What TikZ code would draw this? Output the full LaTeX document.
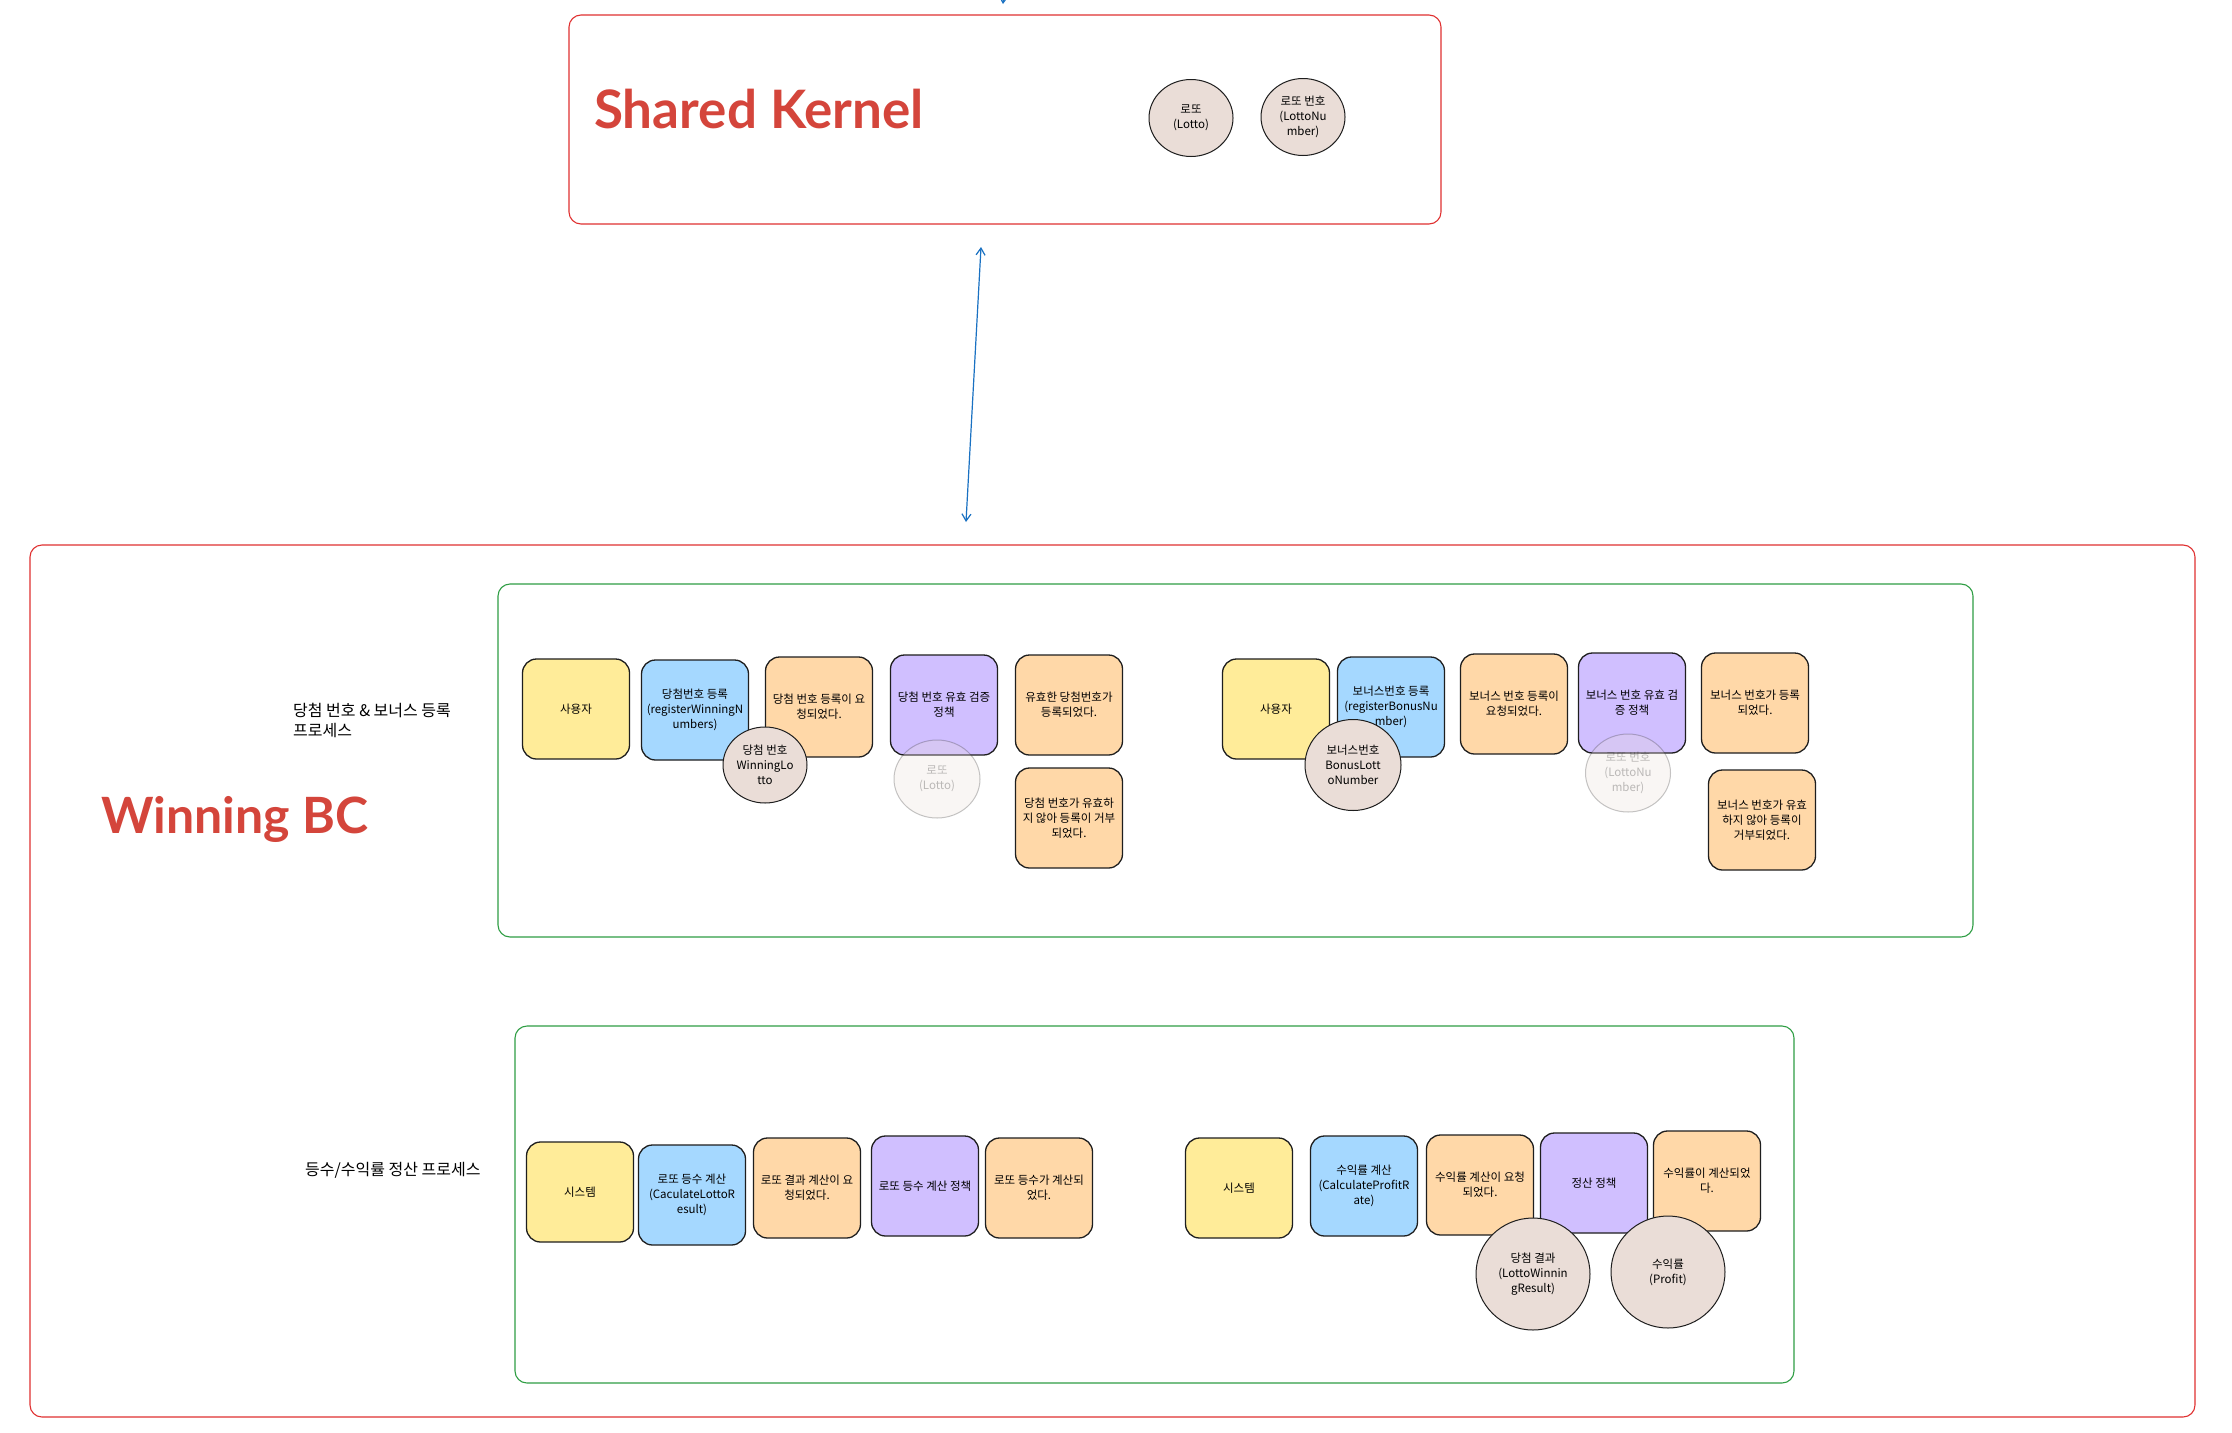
\documentclass[tikz,border=0pt]{standalone}
\usepackage{fontspec}
\setmainfont{Noto Sans CJK KR}
\newfontfamily\titlefont{Lato}
\usepackage{xcolor}
\usetikzlibrary{shapes.geometric,arrows.meta}

\definecolor{stickyyellow}{HTML}{FFEC99}
\definecolor{stickyblue}{HTML}{A5D8FF}
\definecolor{stickyorange}{HTML}{FFD8A8}
\definecolor{stickypurple}{HTML}{D0BFFF}
\definecolor{aggfill}{HTML}{EADDD7}
\definecolor{framered}{HTML}{E03131}
\definecolor{titlered}{HTML}{D4453B}
\definecolor{framegreen}{HTML}{2F9E44}
\definecolor{linkblue}{HTML}{1971C2}
\definecolor{inkdark}{HTML}{1E1E1E}

\begin{document}
\begin{tikzpicture}[x=1pt, y=-1pt,
  frame/.style={rounded corners=12pt, line width=1.1pt},
  sticky/.style={draw=inkdark, line width=1.3pt, rounded corners=14pt, minimum width=107pt, minimum height=100pt, inner sep=2pt, align=center, font=\fontsize{11.5}{15}\selectfont},
  actor/.style={sticky, fill=stickyyellow},
  command/.style={sticky, fill=stickyblue},
  event/.style={sticky, fill=stickyorange},
  policy/.style={sticky, fill=stickypurple},
  aggregate/.style={ellipse, draw=inkdark, line width=1pt, fill=aggfill, inner sep=0pt, align=center, font=\fontsize{11.5}{15}\selectfont},
  ghost/.style={aggregate, opacity=0.25},
  title/.style={text=titlered, font=\titlefont\bfseries\fontsize{53}{60}\selectfont, inner sep=0pt, anchor=base west},
  process/.style={inner sep=0pt, align=left, font=\fontsize{16}{20}\selectfont},
  link/.style={draw=linkblue, line width=1.2pt, {Straight Barb[length=7pt,width=9pt]}-{Straight Barb[length=7pt,width=9pt]}}
]
\useasboundingbox (0,0) rectangle (2232,1432);
\fill[white] (0,0) rectangle (2232,1432);

% shared kernel
\draw[frame, framered] (569,15) rectangle (1441,224);
\node[title] (kernelTitle) at (594,128) {Shared Kernel};
\node[aggregate, minimum width=84pt, minimum height=77pt] (skLotto) at (1191,118) {로또\\(Lotto)};
\node[aggregate, minimum width=84pt, minimum height=77pt] (skNumber) at (1303,117) {로또 번호\\(LottoNu\\mber)};

% winning bc
\draw[frame, framered] (30,545) rectangle (2195,1417);
\node[title, font=\titlefont\bfseries\fontsize{50}{60}\selectfont] (winTitle) at (101,833) {Winning BC};
\draw[frame, framegreen] (498,584) rectangle (1973,937);
\draw[frame, framegreen] (515,1026) rectangle (1794,1383);
\node[process, anchor=north west] (regLabel) at (293,703) {당첨 번호 \& 보너스 등록\\프로세스};
\node[process, anchor=west] (calcLabel) at (305,1170) {등수/수익률 정산 프로세스};

% winning numbers
\node[actor] (user1) at (576,709) {사용자};
\node[command] (regWin) at (695,710) {당첨번호 등록\\(registerWinningN\\umbers)};
\node[event] (winRequested) at (819,707) {당첨 번호 등록이 요\\청되었다.};
\node[policy] (winPolicy) at (944,705) {당첨 번호 유효 검증\\정책};
\node[event] (winAccepted) at (1069,705) {유효한 당첨번호가\\등록되었다.};
\node[event] (winRejected) at (1069,818) {당첨 번호가 유효하\\지 않아 등록이 거부\\되었다.};
\node[aggregate, minimum width=84pt, minimum height=76pt] (winLotto) at (765,765) {당첨 번호\\WinningLo\\tto};
\node[ghost, minimum width=86pt, minimum height=78pt] (ghostLotto) at (937,779) {로또\\(Lotto)};

% bonus number
\node[actor] (user2) at (1276,709) {사용자};
\node[command] (regBonus) at (1391,707) {보너스번호 등록\\(registerBonusNu\\mber)};
\node[event] (bonusRequested) at (1514,704) {보너스 번호 등록이\\요청되었다.};
\node[policy] (bonusPolicy) at (1632,703) {보너스 번호 유효 검\\증 정책};
\node[event] (bonusAccepted) at (1755,703) {보너스 번호가 등록\\되었다.};
\node[event] (bonusRejected) at (1762,820) {보너스 번호가 유효\\하지 않아 등록이\\거부되었다.};
\node[aggregate, minimum width=96pt, minimum height=91pt] (bonusLotto) at (1353,765) {보너스번호\\BonusLott\\oNumber};
\node[ghost, minimum width=85pt, minimum height=78pt] (ghostNumber) at (1628,773) {로또 번호\\(LottoNu\\mber)};

% rank
\node[actor] (system1) at (580,1192) {시스템};
\node[command] (calcRank) at (692,1195) {로또 등수 계산\\(CaculateLottoR\\esult)};
\node[event] (rankRequested) at (807,1188) {로또 결과 계산이 요\\청되었다.};
\node[policy] (rankPolicy) at (925,1186) {로또 등수 계산 정책};
\node[event] (rankDone) at (1039,1188) {로또 등수가 계산되\\었다.};

% profit
\node[actor] (system2) at (1239,1188) {시스템};
\node[command] (calcProfit) at (1364,1186) {수익률 계산\\(CalculateProfitR\\ate)};
\node[event] (profitRequested) at (1480,1185) {수익률 계산이 요청\\되었다.};
\node[policy] (profitPolicy) at (1594,1183) {정산 정책};
\node[event] (profitDone) at (1707,1181) {수익률이 계산되었\\다.};
\node[aggregate, minimum width=114pt, minimum height=112pt] (winResult) at (1533,1274) {당첨 결과\\(LottoWinnin\\gResult)};
\node[aggregate, minimum width=114pt, minimum height=112pt] (profit) at (1668,1272) {수익률\\(Profit)};

% links
\coordinate (kernelEnd) at (981,247);
\coordinate (winEnd) at (966,522);
\draw[link] (kernelEnd) -- (winEnd);
\coordinate (stubTop) at (1005,-30);
\coordinate (stubEnd) at (1003,4);
\draw[draw=linkblue, line width=1.2pt, -{Straight Barb[length=7pt,width=9pt]}] (stubTop) -- (stubEnd);
\end{tikzpicture}
\end{document}
